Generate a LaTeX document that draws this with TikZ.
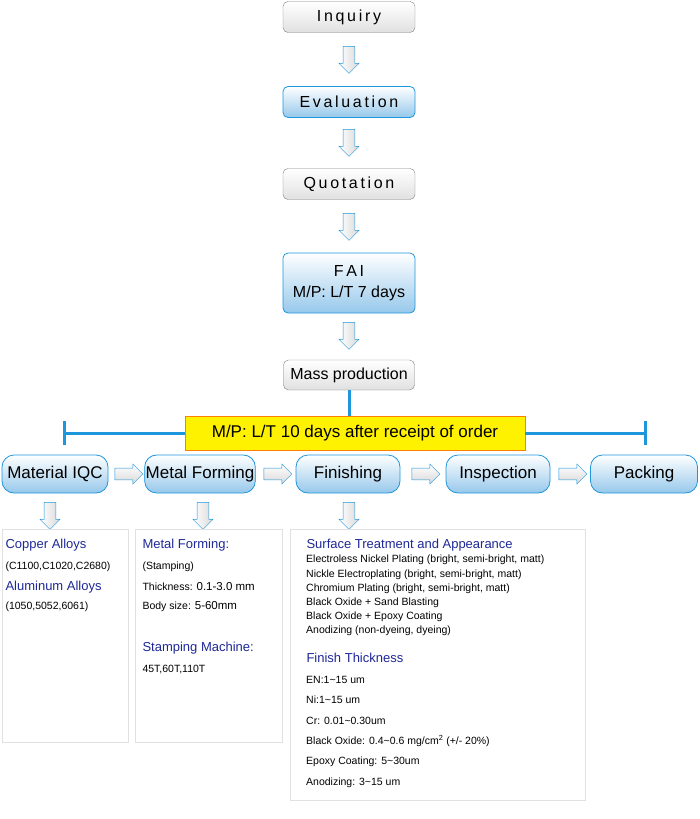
\documentclass[tikz,border=0pt]{standalone}
\usepackage{fontspec}
\setmainfont{Liberation Sans}
\usetikzlibrary{shapes.arrows, positioning}
\definecolor{lineblue}{RGB}{30,150,220}
\definecolor{paleblue}{RGB}{150,200,235}
\definecolor{headblue}{RGB}{30,40,150}
\definecolor{panelgray}{RGB}{225,225,225}
\tikzstyle{greybox} = [rectangle, rounded corners=5pt, minimum width=132pt, minimum height=31pt, draw=gray, top color=white, bottom color=black!12, font=\fontsize{16}{18}\selectfont]
\tikzstyle{bluebox} = [rectangle, rounded corners=5pt, minimum width=132pt, draw=lineblue, thick, top color=white, bottom color=paleblue, font=\fontsize{16}{18}\selectfont]
\tikzstyle{pill} = [rectangle, rounded corners=12pt, minimum width=106pt, minimum height=38pt, draw=lineblue, thick, top color=white, bottom color=paleblue, font=\fontsize{17}{19}\selectfont, inner sep=1pt]
\tikzstyle{darrow} = [single arrow, shape border rotate=270, minimum height=27pt, minimum width=20pt, single arrow head extend=4pt, draw=lineblue, left color=white, right color=black!15, inner sep=0pt]
\tikzstyle{rarrow} = [single arrow, minimum height=28pt, minimum width=20pt, single arrow head extend=4pt, draw=lineblue, top color=white, bottom color=black!15, inner sep=0pt]
\tikzstyle{panel} = [rectangle, draw=panelgray, anchor=north west, inner sep=0pt]
\tikzstyle{head} = [anchor=west, text=headblue, font=\fontsize{13}{15}\selectfont]
\tikzstyle{item} = [anchor=west, font=\fontsize{10.5}{12}\selectfont]
\tikzstyle{bar} = [lineblue, line width=3pt]
\newcommand{\shaft}{\phantom{\rule{11pt}{11pt}}}

\begin{document}
\begin{tikzpicture}[x=1pt, y=-1pt]
    \useasboundingbox (0,0) rectangle (700,819);

    % upper chain
    \node (inq) [greybox] at (349,17) {I\,n\,q\,u\,i\,r\,y};
    \node (a1) [darrow] at (349,57) {\shaft};
    \node (eva) [bluebox, minimum height=31pt] at (349,102) {E\,v\,a\,l\,u\,a\,t\,i\,o\,n};
    \node (a2) [darrow] at (349,140) {\shaft};
    \node (quo) [greybox] at (349,184) {Q\,u\,o\,t\,a\,t\,i\,o\,n};
    \node (a3) [darrow] at (349,224) {\shaft};
    \node (fai) [bluebox, minimum height=60pt, align=center] at (349,283) {F\,A\,I\\[3pt]M/P: L/T 7 days};
    \node (a4) [darrow] at (349,333) {\shaft};
    \node (mass) [greybox, minimum width=131pt, minimum height=30pt] at (349,375) {Mass production};

    % lead time bar
    \node (lt) [rectangle, fill=yellow, draw=orange, thick, minimum width=340pt, minimum height=34pt, font=\fontsize{17}{19}\selectfont] at (355,433) {M/P: L/T 10 days after receipt of order};
    \coordinate (ltl) at (64,433);
    \coordinate (ltr) at (645,433);
    \draw [bar] (mass.south) -- (mass.south |- lt.north);
    \draw [bar] (lt.west) -- (ltl);
    \draw [bar] (lt.east) -- (ltr);
    \draw [bar] ([yshift=-12pt]ltl) -- ([yshift=12pt]ltl);
    \draw [bar] ([yshift=-12pt]ltr) -- ([yshift=12pt]ltr);

    % process line
    \node (iqc) [pill] at (55,474) {Material IQC};
    \node (form) [pill, minimum width=110pt] at (200,474) {Metal Forming};
    \node (fin) [pill, minimum width=104pt] at (348,474) {Finishing};
    \node (insp) [pill, minimum width=104pt] at (498,474) {Inspection};
    \node (pack) [pill, minimum width=107pt] at (644,474) {Packing};
    \node (r1) [rarrow] at (126,474) {\shaft};
    \node (r2) [rarrow] at (275,474) {\shaft};
    \node (r3) [rarrow] at (423,474) {\shaft};
    \node (r4) [rarrow] at (570,474) {\shaft};
    \node (d1) [darrow] at (50,513) {\shaft};
    \node (d2) [darrow] at (203,513) {\shaft};
    \node (d3) [darrow] at (349,513) {\shaft};

    % detail panels
    \node (p1) [panel, minimum width=126pt, minimum height=213pt] at (2,529) {};
    \node (p2) [panel, minimum width=147pt, minimum height=213pt] at (135,529) {};
    \node (p3) [panel, minimum width=295pt, minimum height=271pt] at (290,529) {};

    \node [head] at (2,545) {Copper Alloys};
    \node [item] at (2,567) {(C1100,C1020,C2680)};
    \node [head] at (2,587) {Aluminum Alloys};
    \node [item] at (2,607) {(1050,5052,6061)};

    \node [head] at (139,545) {Metal Forming:};
    \node [item] at (139,567) {(Stamping)};
    \node [item] at (139,587) {Thickness: {\fontsize{11.5}{13}\selectfont 0.1-3.0 mm}};
    \node [item] at (139,607) {Body size: {\fontsize{11.5}{13}\selectfont 5-60mm}};
    \node [head] at (139,648) {Stamping Machine:};
    \node [item] at (139,669) {45T,60T,110T};

    \node [head] at (303,545) {Surface Treatment and Appearance};
    \foreach \txt [count=\i] in {Electroless Nickel Plating (bright{,} semi-bright{,} matt),
        Nickle Electroplating (bright{,} semi-bright{,} matt),
        Chromium Plating (bright{,} semi-bright{,} matt),
        Black Oxide + Sand Blasting,
        Black Oxide + Epoxy Coating,
        Anodizing (non-dyeing{,} dyeing)}
        \node [item, inner sep=0pt] at (306,546+14.2*\i) {\txt};
    \node [head] at (303,658) {Finish Thickness};
    \foreach \txt [count=\i] in {EN:1\textasciitilde15 um, Ni:1\textasciitilde15 um,
        Cr: 0.01\textasciitilde0.30um,
        Black Oxide: 0.4\textasciitilde0.6 mg/cm\textsuperscript{2} (+/- 20\%),
        Epoxy Coating: 5\textasciitilde30um, Anodizing: 3\textasciitilde15 um}
        \node [item, inner sep=0pt] at (306,659+20.6*\i) {\txt};

\end{tikzpicture}
\end{document}
